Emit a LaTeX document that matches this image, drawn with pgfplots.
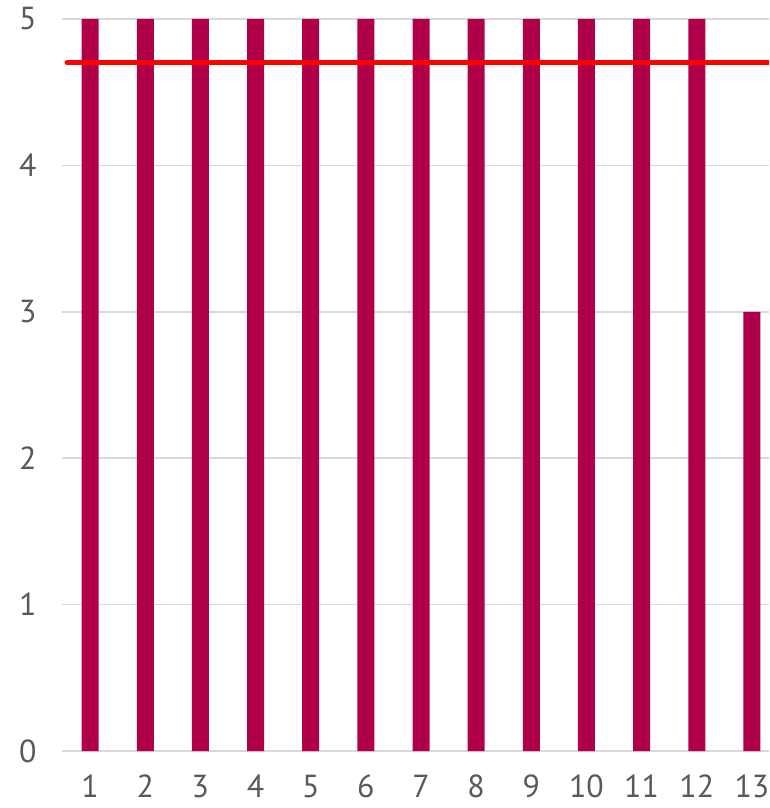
\documentclass[border=0pt]{standalone}
\usepackage{pgfplots}
\pgfplotsset{compat=1.18}
\usepackage{fontspec}
\setmainfont{PT Sans}
\usetikzlibrary{calc}
\definecolor{barc}{RGB}{176,0,74}
\definecolor{gridc}{RGB}{217,217,217}
\definecolor{txt}{RGB}{89,89,89}
\begin{document}
\begin{tikzpicture}
\begin{axis}[
  scale only axis,
  width=707bp, height=732bp,
  xmin=0.49, xmax=13.31,
  ymin=0, ymax=5,
  axis line style={draw=none},
  ytick={0,1,2,3,4,5},
  xtick={1,...,13},
  major tick length=0pt,
  ymajorgrids,
  grid style={gridc, line width=1.5bp},
  tick label style={font=\fontsize{32}{38}\selectfont, text=txt},
  yticklabel style={xshift=-22bp},
  xticklabel style={inner sep=0pt, yshift=-24bp},
  /pgf/number format/assume math mode=true,
  ybar, bar width=17bp,
]
\addplot[fill=barc, draw=none] coordinates {
(1,5) (2,5) (3,5) (4,5) (5,5) (6,5) (7,5) (8,5) (9,5) (10,5) (11,5) (12,5) (13,3)};
\addplot[sharp plot, red, line width=5bp, line cap=round] coordinates {(0.583,4.7) (13.31,4.7)};
\end{axis}
\useasboundingbox ($(current axis.south west)+(-62bp,-57bp)$) rectangle ($(current axis.north east)+(0,19bp)$);
\end{tikzpicture}
\end{document}
